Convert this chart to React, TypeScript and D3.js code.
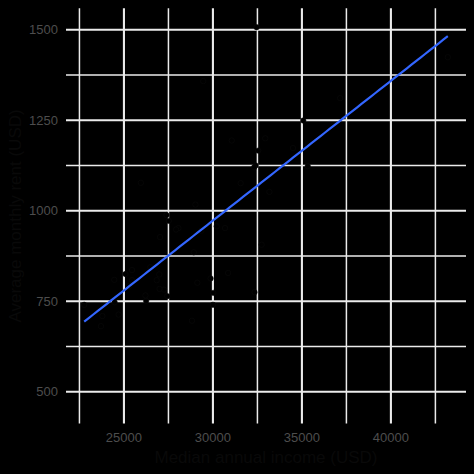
import React, { useEffect } from "react";
import * as d3 from "d3";

const states = ["Alabama","Alaska","Arizona","Arkansas","California","Colorado","Connecticut","Delaware","District of Columbia","Florida","Georgia","Hawaii","Idaho","Illinois","Indiana","Iowa","Kansas","Kentucky","Louisiana","Maine","Maryland","Massachusetts","Michigan","Minnesota","Mississippi","Missouri","Montana","Nebraska","Nevada","New Hampshire","New Jersey","New Mexico","New York","North Carolina","North Dakota","Ohio","Oklahoma","Oregon","Pennsylvania","Rhode Island","South Carolina","South Dakota","Tennessee","Texas","Utah","Vermont","Virginia","Washington","West Virginia","Wisconsin","Wyoming","Puerto Rico"];
const income: (number | null)[] = [24476,32940,27517,23789,29454,32401,35326,31560,43198,25952,27024,32453,25298,30684,27247,30002,29126,24702,25086,26841,37147,34498,26987,32734,22766,26999,26249,30020,29019,33172,35075,24457,31057,26482,32336,27435,26207,27389,28923,30210,25454,28821,25453,28063,27928,29351,32545,32318,23707,29868,30854,null];
const rent: number[] = [747,1200,972,709,1358,1125,1123,1076,1424,1077,927,1507,792,952,782,740,801,713,825,808,1311,1173,824,906,740,784,751,773,1017,1052,1249,809,1194,844,775,764,766,988,885,957,836,696,808,952,948,945,1166,1120,681,813,828,464];
const xMajor = [25000, 30000, 35000, 40000];
const xMinor = [22500, 27500, 32500, 37500, 42500];
const yMajor = [500, 750, 1000, 1250, 1500];
const yMinor = [625, 875, 1125, 1375];

const W = 474, H = 474;
const panel = { left: 66, right: 466, top: 8.3, bottom: 423.6 };

export default function App() {
  useEffect(() => {
    document.body.style.margin = "0";
    document.body.style.background = "#000";
  }, []);

  const xs = income.filter((v) => v != null) as number[];
  const [xmin, xmax] = d3.extent(xs) as [number, number];
  const [ymin, ymax] = d3.extent(rent) as [number, number];
  const xe = (xmax - xmin) * 0.05, ye = (ymax - ymin) * 0.05;
  const x = d3.scaleLinear().domain([xmin - xe, xmax + xe]).range([panel.left, panel.right]);
  const y = d3.scaleLinear().domain([ymin - ye, ymax + ye]).range([panel.bottom, panel.top]);

  const pts = states
    .map((s, i) => ({ s, inc: income[i], r: rent[i] }))
    .filter((d) => d.inc != null) as { s: string; inc: number; r: number }[];
  const mx = d3.mean(pts, (d) => d.inc)!;
  const my = d3.mean(pts, (d) => d.r)!;
  const sxy = d3.sum(pts, (d) => (d.inc - mx) * (d.r - my));
  const sxx = d3.sum(pts, (d) => (d.inc - mx) ** 2);
  const slope = sxy / sxx;
  const icpt = my - slope * mx;
  const lineGen = d3.line<number>().x((v) => x(v)).y((v) => y(icpt + slope * v));
  const linePath = lineGen(d3.range(0, 81).map((k) => xmin + ((xmax - xmin) * k) / 80))!;

  const font = "'Liberation Sans', Arial, Helvetica, sans-serif";
  const grid = "#ebebeb";

  return (
    <svg width={W} height={H} style={{ display: "block", background: "#000" }}>
      <rect x={0} y={0} width={W} height={H} fill="#000" />
      {yMinor.map((v) => (
        <line key={"ym" + v} x1={panel.left} x2={panel.right} y1={y(v)} y2={y(v)} stroke={grid} strokeWidth={1.5} />
      ))}
      {xMinor.map((v) => (
        <line key={"xm" + v} y1={panel.top} y2={panel.bottom} x1={x(v)} x2={x(v)} stroke={grid} strokeWidth={1.5} />
      ))}
      {yMajor.map((v) => (
        <line key={"yM" + v} x1={panel.left} x2={panel.right} y1={y(v)} y2={y(v)} stroke={grid} strokeWidth={2.1} />
      ))}
      {xMajor.map((v) => (
        <line key={"xM" + v} y1={panel.top} y2={panel.bottom} x1={x(v)} x2={x(v)} stroke={grid} strokeWidth={2.1} />
      ))}
      {pts.map((d) => (
        <circle key={d.s} cx={x(d.inc)} cy={y(d.r)} r={2.7} fill="#000" stroke="#0a0a0a" strokeWidth={0.6} />
      ))}
      <path d={linePath} fill="none" stroke="#3366FF" strokeWidth={2.2} />
      {yMajor.map((v) => (
        <text key={"yl" + v} x={58} y={y(v)} dy="0.35em" textAnchor="end" fill="#4D4D4D" fontSize={13} fontFamily={font}>
          {v}
        </text>
      ))}
      {xMajor.map((v) => (
        <text key={"xl" + v} x={x(v)} y={442} textAnchor="middle" fill="#4D4D4D" fontSize={13} fontFamily={font}>
          {v}
        </text>
      ))}
      <text x={(panel.left + panel.right) / 2} y={463} textAnchor="middle" fill="#090909" fontSize={17} fontFamily={font}>
        Median annual income (USD)
      </text>
      <text
        transform={`translate(21,${(panel.top + panel.bottom) / 2}) rotate(-90)`}
        textAnchor="middle"
        fill="#090909"
        fontSize={17}
        fontFamily={font}
      >
        Average monthly rent (USD)
      </text>
    </svg>
  );
}
